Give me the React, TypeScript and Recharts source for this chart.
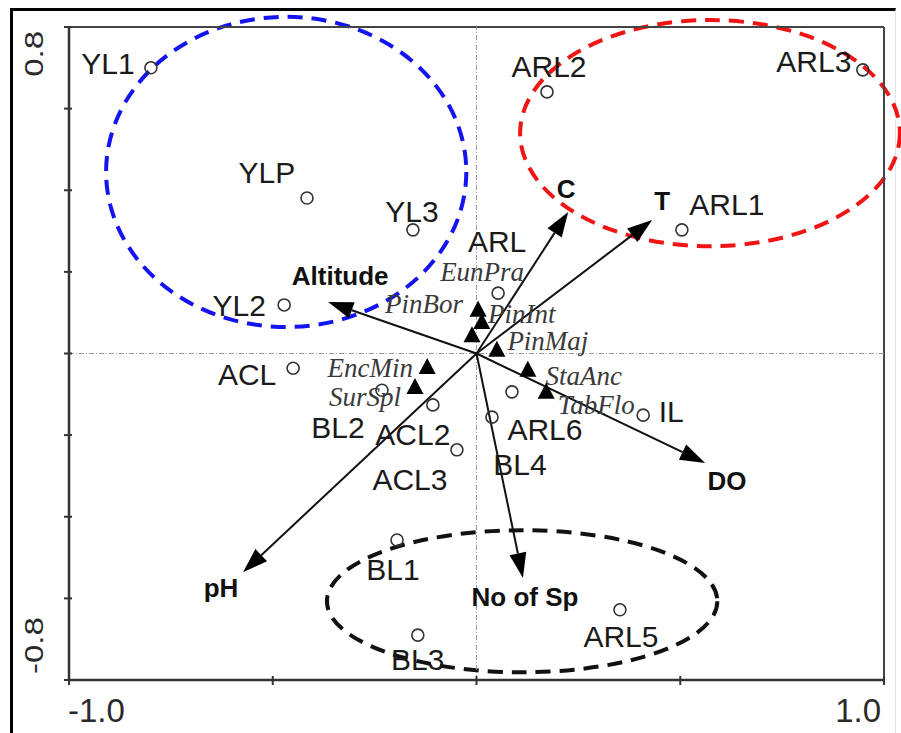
import React from "react";
import {
  ReferenceArea,
  ReferenceLine,
  Scatter,
  ScatterChart,
  XAxis,
  YAxis
} from "recharts";

// sampling sites, scores on axis 1 / axis 2
const siteNames = [
  "YL1", "ARL2", "ARL3", "YLP", "YL3", "ARL1", "ARL", "YL2", "ACL",
  "BL2", "ACL2", "ACL3", "ARL6", "BL4", "IL", "BL1", "BL3", "ARL5"
];
const siteAxis1 = [
  -0.799, 0.173, 0.948, -0.416, -0.156, 0.504, 0.053, -0.472, -0.45,
  -0.232, -0.107, -0.048, 0.087, 0.038, 0.409, -0.195, -0.144, 0.352
];
const siteAxis2 = [
  0.7, 0.641, 0.695, 0.381, 0.303, 0.303, 0.148, 0.119, -0.036,
  -0.09, -0.126, -0.236, -0.094, -0.156, -0.151, -0.457, -0.69, -0.628
];

// species scores
const speciesNames = ["EunPra", "PinInt", "PinBor", "PinMaj", "EncMin", "SurSpl", "StaAnc", "TabFlo"];
const speciesAxis1 = [0.004, 0.013, -0.011, 0.05, -0.121, -0.151, 0.126, 0.171];
const speciesAxis2 = [0.107, 0.077, 0.045, 0.009, -0.033, -0.082, -0.04, -0.094];

// environmental variables (arrow tips)
const envNames = ["Altitude", "C", "T", "DO", "pH", "No of Sp"];
const envAxis1 = [-0.364, 0.225, 0.431, 0.561, -0.573, 0.114];
const envAxis2 = [0.126, 0.347, 0.327, -0.268, -0.536, -0.55];

// site groups drawn as dashed ellipses (centre and semi-axes, axis units)
const groupNames = ["upland", "river", "bottom"];
const groupCx = [-0.467, 0.573, 0.112];
const groupCy = [0.445, 0.54, -0.607];
const groupRx = [0.442, 0.466, 0.479];
const groupRy = [0.38, 0.277, 0.174];

const xTicks = [-1, -0.5, 0, 0.5, 1];
const yTicks = [-0.8, -0.6, -0.4, -0.2, 0, 0.2, 0.4, 0.6, 0.8];

const sites = siteNames.map((name, i) => ({ name, x: siteAxis1[i], y: siteAxis2[i] }));
const species = speciesNames.map((name, i) => ({ name, x: speciesAxis1[i], y: speciesAxis2[i] }));

// label placement in px relative to the marker (text centre, baseline)
const siteLabelPos: Record<string, [number, number]> = {
  YL1: [-43, 6], ARL2: [2, -15], ARL3: [-49, 2], YLP: [-40, -15], YL3: [-1, -8],
  ARL1: [45, -15], ARL: [-1, -41], YL2: [-45, 11], ACL: [-46, 17], BL2: [-44, 48],
  ACL2: [-20, 40], ACL3: [-47, 40], ARL6: [33, 48], BL4: [28, 58], IL: [28, 7],
  BL1: [-4, 40], BL3: [0, 35], ARL5: [1, 37]
};
const speciesLabelPos: Record<string, [number, number]> = {
  EunPra: [4, -29], PinInt: [40, 1], PinBor: [-48, -22], PinMaj: [51, 0],
  EncMin: [-57, 10], SurSpl: [-50, 19], StaAnc: [56, 15], TabFlo: [50, 22]
};
const envLabelPos: Record<string, [number, number]> = {
  Altitude: [12, -17], C: [-2, -14], T: [10, -10], DO: [22, 27], pH: [-22, 25], "No of Sp": [2, 28]
};
const groupColors: Record<string, string> = { upland: "#1414f0", river: "#f01414", bottom: "#111111" };

const SANS = "'Liberation Sans', Arial, sans-serif";
const SERIF = "'Liberation Serif', 'Times New Roman', serif";

const SiteMark = (props: any) => {
  const { cx, cy, payload } = props;
  const [dx, dy] = siteLabelPos[payload.name] || [0, -12];
  return (
    <g>
      <circle cx={cx} cy={cy} r={6} fill="none" stroke="#333" strokeWidth={1.6} />
      <text x={cx + dx} y={cy + dy} textAnchor="middle" fontFamily={SANS} fontSize={30} fill="#1a1a1a">
        {payload.name}
      </text>
    </g>
  );
};

const SpeciesMark = (props: any) => {
  const { cx, cy, payload } = props;
  const [dx, dy] = speciesLabelPos[payload.name] || [0, -12];
  return (
    <g>
      <polygon points={`${cx},${cy - 9} ${cx - 8.5},${cy + 7} ${cx + 8.5},${cy + 7}`} fill="#000" />
      <text
        x={cx + dx}
        y={cy + dy}
        textAnchor="middle"
        fontFamily={SERIF}
        fontStyle="italic"
        fontSize={27}
        fill="#3a3a3a"
      >
        {payload.name}
      </text>
    </g>
  );
};

const arrowShape = (name: string) => (props: any) => {
  const { x1, y1, x2, y2 } = props;
  const ang = Math.atan2(y2 - y1, x2 - x1);
  const len = 25;
  const hw = 8.5;
  const c = Math.cos(ang);
  const s = Math.sin(ang);
  const bx = x2 - len * c;
  const by = y2 - len * s;
  const [dx, dy] = envLabelPos[name] || [0, -10];
  return (
    <g>
      <line x1={x1} y1={y1} x2={bx} y2={by} stroke="#111" strokeWidth={2} />
      <polygon
        points={`${x2},${y2} ${bx - hw * s},${by + hw * c} ${bx + hw * s},${by - hw * c}`}
        fill="#000"
      />
      <text x={x2 + dx} y={y2 + dy} textAnchor="middle" fontFamily={SANS} fontWeight="bold" fontSize={26} fill="#111">
        {name}
      </text>
    </g>
  );
};

const ellipseShape = (group: string) => (props: any) => {
  const { x, y, width, height } = props;
  return (
    <ellipse
      cx={x + width / 2}
      cy={y + height / 2}
      rx={Math.abs(width) / 2}
      ry={Math.abs(height) / 2}
      fill="none"
      stroke={groupColors[group]}
      strokeWidth={4}
      strokeDasharray="15 9"
    />
  );
};

const XTick = (props: any) => {
  const { x, y, payload } = props;
  return (
    <g>
      <line x1={x} x2={x} y1={y - 4} y2={y + 5} stroke="#333" strokeWidth={2} />
      {payload.value === -1 && (
        <text x={x - 1} y={y + 42} textAnchor="start" fontFamily={SANS} fontSize={33} fill="#2a2a2a">
          -1.0
        </text>
      )}
      {payload.value === 1 && (
        <text x={x - 3} y={y + 42} textAnchor="end" fontFamily={SANS} fontSize={33} fill="#2a2a2a">
          1.0
        </text>
      )}
    </g>
  );
};

const YTick = (props: any) => {
  const { x, y, payload } = props;
  const v = Math.round(payload.value * 10) / 10;
  const label = v === 0.8 ? "0.8" : v === -0.8 ? "-0.8" : null;
  return (
    <g>
      <line x1={x - 5} x2={x + 3} y1={y} y2={y} stroke="#333" strokeWidth={2} />
      {label && (
        <g transform={`translate(${x - 26},${v > 0 ? y + 4 : y - 6}) rotate(-90)`}>
          <text
            transform="scale(1,0.78)"
            textAnchor={v > 0 ? "end" : "start"}
            fontFamily={SANS}
            fontSize={33}
            fill="#2a2a2a"
          >
            {label}
          </text>
        </g>
      )}
    </g>
  );
};

export default function App() {
  return (
    <div style={{ position: "absolute", left: 0, top: 0, width: 901, height: 733, background: "#fff" }}>
      <div
        style={{
          position: "absolute",
          left: 10,
          top: 8,
          width: 886,
          height: 725,
          boxSizing: "border-box",
          borderTop: "3px solid #000",
          borderLeft: "3px solid #000",
          borderRight: "1px solid #e2e2e2"
        }}
      />
      <div style={{ position: "absolute", left: 0, top: 0 }}>
        <ScatterChart width={901} height={733} margin={{ top: 27, right: 17, bottom: 13, left: 29 }}>
          <XAxis
            type="number"
            dataKey="x"
            domain={[-1, 1]}
            ticks={xTicks}
            interval={0}
            height={40}
            tickSize={0}
            tickMargin={0}
            tickLine={false}
            tick={<XTick />}
            axisLine={{ stroke: "#333", strokeWidth: 2.5 }}
            allowDataOverflow
          />
          <YAxis
            type="number"
            dataKey="y"
            domain={[-0.8, 0.8]}
            ticks={yTicks}
            interval={0}
            width={40}
            tickSize={0}
            tickMargin={0}
            tickLine={false}
            tick={<YTick />}
            axisLine={{ stroke: "#333", strokeWidth: 2.5 }}
            allowDataOverflow
          />
          {/* frame and zero lines */}
          <ReferenceLine y={0.8} stroke="#444" strokeWidth={2} />
          <ReferenceLine x={1} stroke="#444" strokeWidth={2} />
          <ReferenceLine y={0} stroke="#9a9a9a" strokeWidth={1} strokeDasharray="5 2 1 2" />
          <ReferenceLine x={0} stroke="#9a9a9a" strokeWidth={1} strokeDasharray="5 2 1 2" />

          {groupNames.map((g, i) => (
            <ReferenceArea
              key={g}
              x1={groupCx[i] - groupRx[i]}
              x2={groupCx[i] + groupRx[i]}
              y1={groupCy[i] - groupRy[i]}
              y2={groupCy[i] + groupRy[i]}
              ifOverflow="visible"
              shape={ellipseShape(g)}
            />
          ))}

          {envNames.map((name, i) => (
            <ReferenceLine
              key={name}
              segment={[
                { x: 0, y: 0 },
                { x: envAxis1[i], y: envAxis2[i] }
              ]}
              ifOverflow="visible"
              shape={arrowShape(name)}
            />
          ))}

          <Scatter data={species} shape={<SpeciesMark />} isAnimationActive={false} />
          <Scatter data={sites} shape={<SiteMark />} isAnimationActive={false} />
        </ScatterChart>
      </div>
    </div>
  );
}
